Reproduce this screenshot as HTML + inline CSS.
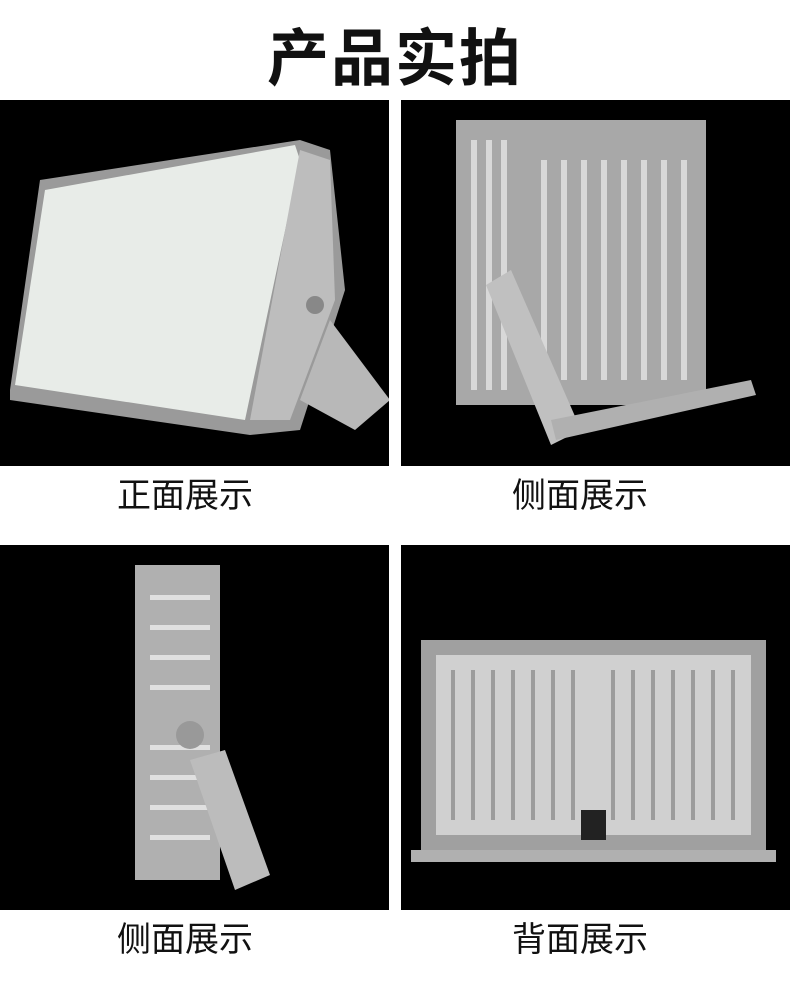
<!DOCTYPE html>
<html><head><meta charset="utf-8"><style>
body{margin:0;width:790px;height:988px;background:#fff;position:relative;overflow:hidden;font-family:"Liberation Sans","Noto Sans CJK SC",sans-serif}
.t{position:absolute;left:0;width:790px;text-align:center;top:8px;font-size:62px;font-weight:bold;color:#111;letter-spacing:2px}
.p{position:absolute;background:#000;overflow:hidden}
.l{position:absolute;font-size:34px;color:#111;width:390px;text-align:center}
</style></head><body>
<div class="t">产品实拍</div>
<div class="p" style="left:0;top:100px;width:389px;height:366px">
<svg width="389" height="366">
<polygon points="300,40 330,50 345,190 300,330 250,335 10,300 10,290 40,80" fill="#9a9a9a"/>
<polygon points="15,285 45,90 295,45 300,60 245,320" fill="#e8ece8"/>
<polygon points="300,50 330,60 335,200 290,320 250,320" fill="#bdbdbd"/>
<polygon points="300,300 330,220 390,300 355,330" fill="#b8b8b8"/>
<circle cx="315" cy="205" r="9" fill="#888"/>
</svg></div>
<div class="p" style="left:401px;top:100px;width:389px;height:366px">
<svg width="389" height="366">
<rect x="55" y="20" width="250" height="285" fill="#a8a8a8"/>
<g fill="#d8d8d8">
<rect x="70" y="40" width="6" height="250"/><rect x="85" y="40" width="6" height="250"/><rect x="100" y="40" width="6" height="250"/><rect x="140" y="60" width="6" height="220"/><rect x="160" y="60" width="6" height="220"/><rect x="180" y="60" width="6" height="220"/><rect x="200" y="60" width="6" height="220"/><rect x="220" y="60" width="6" height="220"/><rect x="240" y="60" width="6" height="220"/><rect x="260" y="60" width="6" height="220"/><rect x="280" y="60" width="6" height="220"/></g>
<polygon points="85,185 110,170 180,330 150,345" fill="#c0c0c0"/>
<polygon points="150,320 350,280 355,295 155,340" fill="#b0b0b0"/>
</svg></div>
<div class="p" style="left:0;top:545px;width:389px;height:365px">
<svg width="389" height="365">
<rect x="135" y="20" width="85" height="315" fill="#b0b0b0"/>
<g fill="#e0e0e0"><rect x="150" y="50" width="60" height="5"/><rect x="150" y="80" width="60" height="5"/><rect x="150" y="110" width="60" height="5"/><rect x="150" y="140" width="60" height="5"/><rect x="150" y="200" width="60" height="5"/><rect x="150" y="230" width="60" height="5"/><rect x="150" y="260" width="60" height="5"/><rect x="150" y="290" width="60" height="5"/></g>
<polygon points="190,215 225,205 270,330 235,345" fill="#bcbcbc"/>
<circle cx="190" cy="190" r="14" fill="#999"/>
</svg></div>
<div class="p" style="left:401px;top:545px;width:389px;height:365px">
<svg width="389" height="365">
<rect x="20" y="95" width="345" height="210" fill="#a0a0a0"/>
<rect x="35" y="110" width="315" height="180" fill="#d0d0d0"/>
<g fill="#9c9c9c"><rect x="50" y="125" width="4" height="150"/><rect x="70" y="125" width="4" height="150"/><rect x="90" y="125" width="4" height="150"/><rect x="110" y="125" width="4" height="150"/><rect x="130" y="125" width="4" height="150"/><rect x="150" y="125" width="4" height="150"/><rect x="170" y="125" width="4" height="150"/><rect x="210" y="125" width="4" height="150"/><rect x="230" y="125" width="4" height="150"/><rect x="250" y="125" width="4" height="150"/><rect x="270" y="125" width="4" height="150"/><rect x="290" y="125" width="4" height="150"/><rect x="310" y="125" width="4" height="150"/><rect x="330" y="125" width="4" height="150"/></g>
<rect x="10" y="305" width="365" height="12" fill="#b0b0b0"/>
<rect x="180" y="265" width="25" height="30" fill="#222"/>
</svg></div>
<div class="l" style="left:-10px;top:468px">正面展示</div>
<div class="l" style="left:385px;top:468px">侧面展示</div>
<div class="l" style="left:-10px;top:912px">侧面展示</div>
<div class="l" style="left:385px;top:912px">背面展示</div>
</body></html>
